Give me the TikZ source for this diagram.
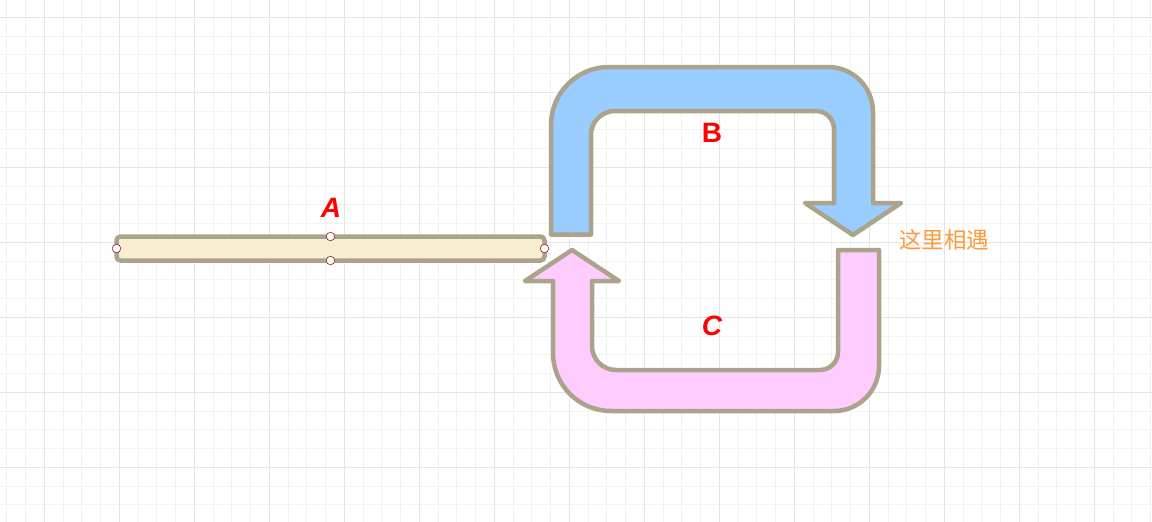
\documentclass[tikz,border=0pt]{standalone}
\usepackage{fontspec}
\newfontfamily\lab{Liberation Sans}
\newfontfamily\cjk{Noto Sans CJK SC}
\definecolor{edgec}{HTML}{ABA38C}
\definecolor{bluef}{HTML}{99CCFF}
\definecolor{pinkf}{HTML}{FFCCFF}
\definecolor{creamf}{HTML}{F9EFD0}
\definecolor{meetc}{HTML}{FF9A3C}
\definecolor{handc}{HTML}{993333}
\tikzset{
  minorgrid/.style={draw=black!5, line width=1pt},
  majorgrid/.style={draw=black!10, line width=1.2pt},
  bigarrow/.style={draw=edgec, line width=4.5pt, line join=round},
  barbox/.style={draw=edgec, fill=creamf, line width=4.5pt, rounded corners=4pt, inner sep=0pt, outer sep=0pt},
  handle/.style={circle, draw=handc, fill=white, line width=0.7pt, minimum size=8.5pt, inner sep=0pt},
  redlab/.style={text=red, font=\lab\bfseries\fontsize{28}{30}\selectfont, inner sep=0pt},
}
\begin{document}
\begin{tikzpicture}[x=1pt,y=-1pt]
\useasboundingbox (0,0) rectangle (1152,522);
\fill[white] (0,0) rectangle (1152,522);
% grid
\foreach \i in {0,...,61} \draw[minorgrid] ({6.8+18.75*\i},0) -- ({6.8+18.75*\i},522);
\foreach \i in {0,...,26} \draw[minorgrid] (0,{17.3+18.75*\i}) -- (1152,{17.3+18.75*\i});
\foreach \i in {0,...,14} \draw[majorgrid] ({44.3+75*\i},0) -- ({44.3+75*\i},522);
\foreach \i in {0,...,6} \draw[majorgrid] (0,{17.3+75*\i}) -- (1152,{17.3+75*\i});
% bar A
\node[barbox, minimum width=428pt, minimum height=24pt] (A) at (330.5,248.5) {};
\node[handle] (hw) at (A.west) {};
\node[handle] (he) at (A.east) {};
\node[handle] (hn) at (A.north) {};
\node[handle] (hs) at (A.south) {};
% blue arrow B
\draw[bigarrow, fill=bluef]
  (551,234.5) -- (551,125) .. controls (551,92.97) and (576.97,67) .. (609,67)
  -- (828,67) .. controls (852.85,67) and (873,87.15) .. (873,112)
  -- (873,203) -- (901,203) -- (853,235) -- (805,203) -- (834,203)
  -- (834,129) .. controls (834,119.06) and (825.94,111) .. (816,111)
  -- (615,111) .. controls (601.74,111) and (591,121.74) .. (591,135)
  -- (591,234.5) -- cycle;
% pink arrow C
\draw[bigarrow, fill=pinkf]
  (838,250) -- (879,250) -- (879,366) .. controls (879,390.85) and (858.85,411) .. (834,411)
  -- (611,411) .. controls (578.97,411) and (553,385.03) .. (553,353)
  -- (553,281) -- (525,281) -- (572,250) -- (619,281) -- (592,281)
  -- (592,346) .. controls (592,359.26) and (602.74,370) .. (616,370)
  -- (820,370) .. controls (829.94,370) and (838,361.94) .. (838,352)
  -- cycle;
% labels
\node[redlab, font=\lab\bfseries\itshape\fontsize{28}{30}\selectfont] (labA) at (331,208) {A};
\node[redlab] (labB) at (712,133) {B};
\node[redlab, font=\lab\bfseries\itshape\fontsize{28}{30}\selectfont] (labC) at (712,326) {C};
\node[text=meetc, font=\cjk\fontsize{22.5}{24}\selectfont, inner sep=0pt, anchor=west] (meet) at (899,240) {这里相遇};
\end{tikzpicture}
\end{document}
